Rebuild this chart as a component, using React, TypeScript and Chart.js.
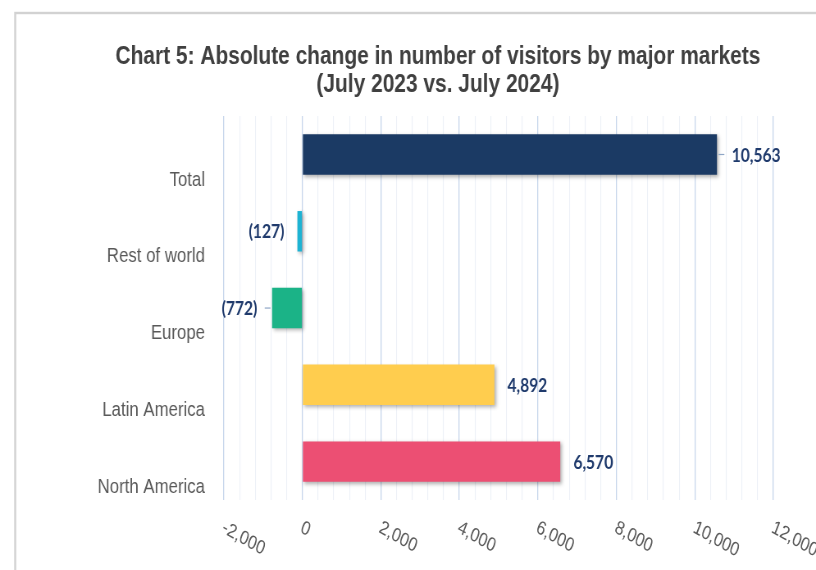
import React, { useEffect, useRef } from "react";
import { Chart, registerables } from "chart.js";

Chart.register(...registerables);

// ---- data ----
const CATEGORIES = ["Total", "Rest of world", "Europe", "Latin America", "North America"];
const VALUES = [10563, -127, -772, 4892, 6570];
const BAR_COLORS = ["#1B3A64", "#1DB3D3", "#1BB387", "#FFCD4E", "#EC4F73"];
const X_MIN = -2000;
const X_MAX = 12000;
const MAJOR_STEP = 2000;
const MINOR_STEP = 400;
const TITLE_LINES = [
  "Chart 5: Absolute change in number of visitors by major markets",
  "(July 2023 vs. July 2024)",
];

// ---- look ----
const SCALE_X = 0.82; // the picture is horizontally squeezed
const W = Math.round(816 / SCALE_X);
const H = 570;
const LABEL_COLOR = "#1F3A6C";
const MAJOR_GRID = "#C8D7EC";
const MINOR_GRID = "#EDF1F7";

const fmt = (v: number) =>
  v < 0 ? `(${Math.abs(v).toLocaleString("en-US")})` : v.toLocaleString("en-US");

const framePlugin = {
  id: "frame",
  beforeDraw(chart: any) {
    const c = chart.ctx;
    c.save();
    c.fillStyle = "#ffffff";
    c.fillRect(0, 0, chart.width, chart.height);
    c.strokeStyle = "#D2D2D2";
    c.lineWidth = 2.4;
    c.strokeRect(18.5, 13, chart.width + 40, chart.height + 40);
    c.restore();
  },
};

// let the category labels reach past the left layout padding without being clipped
const yLabelRoomPlugin = {
  id: "yLabelRoom",
  afterLayout(chart: any) {
    chart.scales.y.left = 0;
  },
};

const shadowPlugin = {
  id: "barShadow",
  beforeDatasetsDraw(chart: any) {
    const c = chart.ctx;
    c.save();
    c.shadowColor = "rgba(0,0,0,0.32)";
    c.shadowBlur = 4;
    c.shadowOffsetX = 2;
    c.shadowOffsetY = 2;
  },
  afterDatasetsDraw(chart: any) {
    chart.ctx.restore();
  },
};

const dataLabelPlugin = {
  id: "dataLabels",
  afterDatasetsDraw(chart: any) {
    const c = chart.ctx;
    const meta = chart.getDatasetMeta(0);
    const leaderFor = new Set(["Total", "Europe"]);
    c.save();
    c.font = "bold 19px Lato";
    c.fillStyle = LABEL_COLOR;
    c.textBaseline = "middle";
    meta.data.forEach((bar: any, i: number) => {
      const v = VALUES[i];
      const x = bar.x;
      const y = bar.y;
      const dir = v >= 0 ? 1 : -1;
      const gap = leaderFor.has(CATEGORIES[i]) ? 18 : 16;
      if (leaderFor.has(CATEGORIES[i])) {
        c.strokeStyle = "#8EA6C6";
        c.lineWidth = 1.2;
        c.beginPath();
        c.moveTo(x + dir * 2, y);
        c.lineTo(x + dir * 9, y);
        c.stroke();
      }
      c.textAlign = dir > 0 ? "left" : "right";
      c.fillText(fmt(v), x + dir * gap, y + 1);
    });
    c.restore();
  },
};

const xTickPlugin = {
  id: "rotatedXTicks",
  afterDraw(chart: any) {
    const scale = chart.scales.x;
    const c = chart.ctx;
    c.save();
    c.font = "19.5px 'Liberation Sans'";
    c.fillStyle = "#595959";
    c.textAlign = "left";
    c.textBaseline = "top";
    scale.ticks.forEach((t: any) => {
      if (t.value % MAJOR_STEP !== 0) return;
      const px = scale.getPixelForValue(t.value);
      c.save();
      c.translate(px + 3, chart.chartArea.bottom + 18);
      c.rotate((25 * Math.PI) / 180);
      c.fillText(t.value.toLocaleString("en-US"), 0, 0);
      c.restore();
    });
    c.restore();
  },
};

export default function App() {
  const ref = useRef<HTMLCanvasElement | null>(null);

  useEffect(() => {
    if (!ref.current) return;
    const chart = new Chart(ref.current, {
      type: "bar",
      data: {
        labels: CATEGORIES,
        datasets: [
          {
            data: VALUES,
            backgroundColor: BAR_COLORS,
            borderWidth: 0,
            barPercentage: 0.527,
            categoryPercentage: 1,
          },
        ],
      },
      plugins: [framePlugin, yLabelRoomPlugin, shadowPlugin, dataLabelPlugin, xTickPlugin],
      options: {
        indexAxis: "y",
        animation: false,
        responsive: false,
        devicePixelRatio: 1,
        layout: { padding: { left: 125, right: 52, top: 0, bottom: 0 } },
        plugins: {
          legend: { display: false },
          tooltip: { enabled: false },
          title: {
            display: true,
            text: TITLE_LINES,
            color: "#404040",
            font: { family: "'Liberation Sans'", size: 25.5, weight: "bold", lineHeight: 1.1 },
            padding: { top: 43, bottom: 17 },
          },
        },
        scales: {
          x: {
            type: "linear",
            min: X_MIN,
            max: X_MAX,
            ticks: { display: false, stepSize: MINOR_STEP },
            grid: {
              drawTicks: false,
              color: (c: any) =>
                c.tick && c.tick.value % MAJOR_STEP === 0 ? MAJOR_GRID : MINOR_GRID,
              lineWidth: (c: any) => (c.tick && c.tick.value % MAJOR_STEP === 0 ? 1.3 : 1.1),
            },
            border: { display: false },
            afterFit: (s: any) => {
              s.height = 70;
            },
          },
          y: {
            type: "category",
            grid: { display: false, drawTicks: false },
            border: { display: false },
            ticks: {
              color: "#595959",
              font: { family: "'Liberation Sans'", size: 20.5 },
              padding: 23,
              labelOffset: 25.5,
            },
            afterFit: (s: any) => {
              s.width = 148;
            },
          },
        },
      },
    } as any);
    return () => chart.destroy();
  }, []);

  return (
    <div
      style={{
        position: "fixed",
        left: 0,
        top: 0,
        width: 816,
        height: H,
        overflow: "hidden",
        background: "#fff",
      }}
    >
      <div
        style={{
          width: W,
          height: H,
          transform: `scaleX(${816 / W})`,
          transformOrigin: "0 0",
        }}
      >
        <canvas ref={ref} width={W} height={H} style={{ display: "block" }} />
      </div>
    </div>
  );
}
